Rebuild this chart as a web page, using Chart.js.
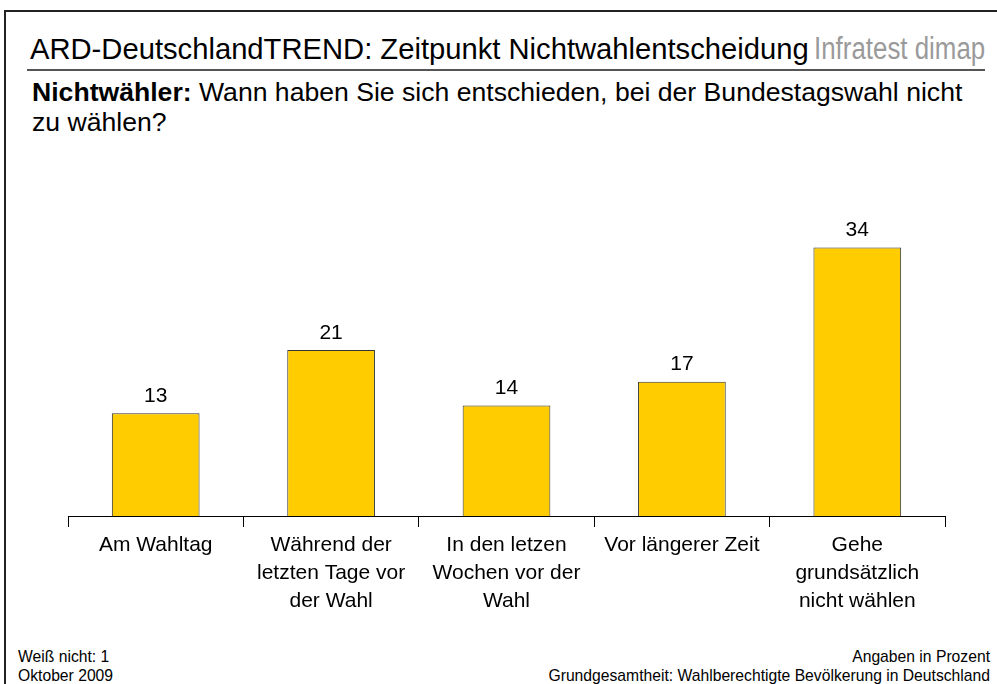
<!DOCTYPE html>
<html>
<head>
<meta charset="utf-8">
<script src="https://cdn.jsdelivr.net/npm/chart.js@4/dist/chart.umd.min.js"></script>
<style>
  html, body { margin: 0; padding: 0; background: #fff; }
  body { width: 997px; height: 684px; position: relative; overflow: hidden; font-family: "Liberation Sans", Arial, sans-serif; color: #000; }
  #frame { position: absolute; left: 4px; top: 10px; width: 1100px; height: 800px; border-left: 2px solid #222; border-top: 2px solid #222; }
  #title { position: absolute; left: 30px; top: 33px; font-size: 29.2px; white-space: nowrap; }
  #brand { position: absolute; left: 814px; top: 31px; font-size: 31px; color: #9a9a9a; white-space: nowrap; transform: scaleX(0.835); transform-origin: left top; }
  #rule { position: absolute; left: 27px; top: 69px; width: 958px; height: 2px; background: #555; }
  #question { position: absolute; left: 32px; top: 77px; width: 950px; font-size: 26.6px; line-height: 30px; }
  .foot { position: absolute; font-size: 15.7px; line-height: 19px; }
  #chartBox { position: absolute; left: 0; top: 0; width: 997px; height: 684px; }
</style>
</head>
<body>
<div id="frame"></div>
<div id="title">ARD-DeutschlandTREND: Zeitpunkt Nichtwahlentscheidung</div>
<div id="brand">Infratest dimap</div>
<div id="rule"></div>
<div id="question"><b>Nichtwähler:</b> Wann haben Sie sich entschieden, bei der Bundestagswahl nicht zu wählen?</div>
<div class="foot" style="left:18px; top:647px;">Weiß nicht: 1<br>Oktober 2009</div>
<div class="foot" style="right:7px; top:647px; text-align:right;">Angaben in Prozent<br>Grundgesamtheit: Wahlberechtigte Bevölkerung in Deutschland</div>
<div id="chartBox"><canvas id="chart"></canvas></div>
<script>
const categories = [
  ['Am Wahltag'],
  ['Während der', 'letzten Tage vor', 'der Wahl'],
  ['In den letzen', 'Wochen vor der', 'Wahl'],
  ['Vor längerer Zeit'],
  ['Gehe', 'grundsätzlich', 'nicht wählen']
];
const shares = [13, 21, 14, 17, 34];

// numbers above the bars
const valueLabels = {
  id: 'valueLabels',
  afterDatasetsDraw(chart) {
    const ctx = chart.ctx;
    ctx.save();
    ctx.font = '21px "Liberation Sans", Arial, sans-serif';
    ctx.fillStyle = '#000';
    ctx.textAlign = 'center';
    ctx.textBaseline = 'middle';
    chart.getDatasetMeta(0).data.forEach((bar, i) => {
      ctx.fillText(String(shares[i]), bar.x, bar.y - 17);
    });
    ctx.restore();
  }
};

new Chart(document.getElementById('chart'), {
  type: 'bar',
  data: {
    labels: categories,
    datasets: [{
      data: shares,
      backgroundColor: '#FFCC00',
      borderColor: '#333',
      borderWidth: 1,
      barPercentage: 0.5,
      categoryPercentage: 1
    }]
  },
  options: {
    responsive: true,
    maintainAspectRatio: false,
    animation: false,
    layout: { padding: { left: 68, right: 52, top: 200, bottom: 68 } },
    plugins: { legend: { display: false }, tooltip: { enabled: false } },
    scales: {
      x: {
        offset: true,
        afterFit(scale) { scale.height = 100; },
        border: { display: true, color: '#000', width: 1 },
        grid: { offset: true, drawOnChartArea: false, drawTicks: true, tickLength: 11, color: '#000' },
        ticks: {
          color: '#000',
          padding: 4,
          maxRotation: 0,
          autoSkip: false,
          font: { family: '"Liberation Sans", Arial, sans-serif', size: 21, lineHeight: 1.333 }
        }
      },
      y: {
        display: false,
        min: 0,
        max: 40
      }
    }
  },
  plugins: [valueLabels]
});
</script>
</body>
</html>
